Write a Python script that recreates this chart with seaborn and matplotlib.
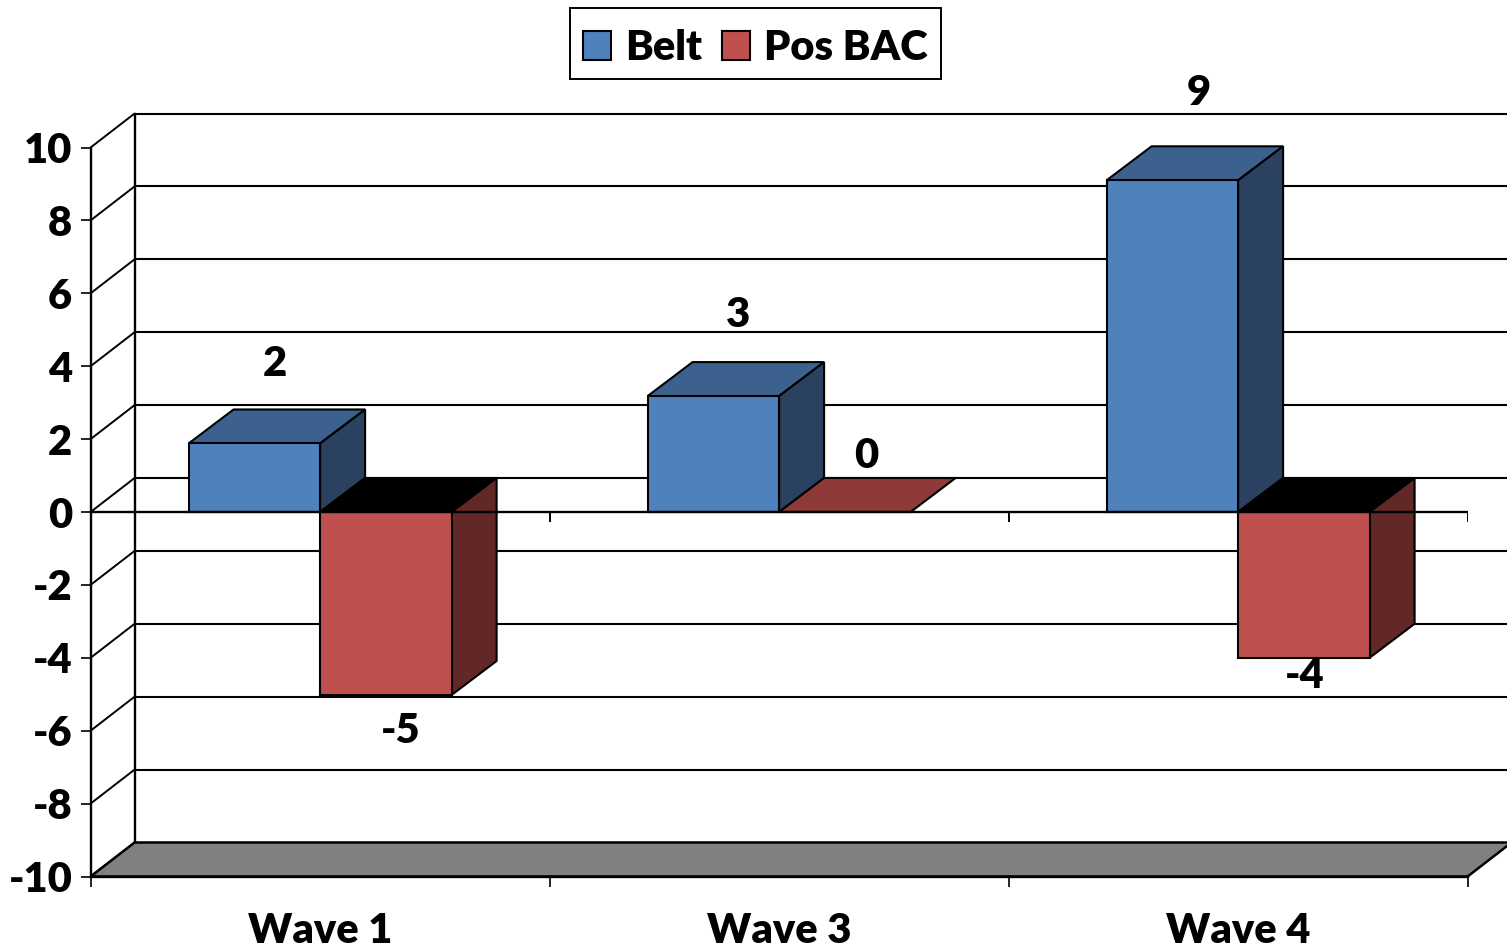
# plot.py
# Excel style 3D clustered columns, drawn with seaborn plus projected faces
import matplotlib
matplotlib.use("Agg")
import matplotlib.pyplot as plt
from matplotlib.patches import Polygon, Rectangle
import pandas as pd
import seaborn as sns

# Data
waves = ["Wave 1", "Wave 3", "Wave 4"]
belt = [1.88, 3.18, 9.1]
pos_bac = [-5.02, 0.0, -4.0]
belt_labels = ["2", "3", "9"]
bac_labels = ["-5", "0", "-4"]
y_ticks = [-10, -8, -6, -4, -2, 0, 2, 4, 6, 8, 10]

# Label offsets from the bar end, in pixels
belt_offsets = [(21, 79), (25, 81), (26, 87)]
bac_offsets = [(15, -36), (21, 56), (1, -18)]

BLUE, BLUE_TOP, BLUE_SIDE = "#4F81BD", "#3D618E", "#2A415F"
RED, RED_ZERO, RED_SIDE = "#C0504D", "#8E3A38", "#622827"
FS = 30

sns.set_theme(style="white")
plt.rcParams["font.family"] = ["Lato", "DejaVu Sans"]
plt.rcParams["font.weight"] = "heavy"
plt.rcParams["axes.unicode_minus"] = False

W, H = 1507, 948
fig = plt.figure(figsize=(W / 100, H / 100), dpi=100)
ax = fig.add_axes([90.6 / W, (H - 876.5) / H, 1377 / W, 729 / H])

df = pd.DataFrame({
    "wave": waves * 2,
    "value": belt + pos_bac,
    "series": ["Belt"] * 3 + ["Pos BAC"] * 3,
})
sns.barplot(data=df, x="wave", y="value", hue="series", palette=[BLUE, RED],
            width=0.573, gap=0, edgecolor="black", linewidth=1.5, ax=ax,
            saturation=1, errorbar=None, zorder=3)

ax.set_xlim(-0.5, 2.5)
ax.set_ylim(-10, 10)
ax.set_xlabel("")
ax.set_ylabel("")

# depth of the fake 3D box, converted to data units
DX = 44 / (1377 / 3)
BAR_DX = 45 / (1377 / 3)
DY = 34 / (729 / 20)

# back wall, left wall and floor
xmin, xmax = ax.get_xlim()
for v in y_ticks:
    ax.plot([xmin + DX, xmax + DX], [v + DY, v + DY], color="black", lw=1.5,
            clip_on=False, zorder=1)
    ax.plot([xmin, xmin + DX], [v, v + DY], color="black", lw=1.4,
            clip_on=False, zorder=1)
ax.plot([xmin + DX, xmin + DX], [-10 + DY, 10 + DY], color="black", lw=1.7,
        clip_on=False, zorder=1)
ax.add_patch(Polygon([(xmin, -10), (xmax, -10), (xmax + DX, -10 + DY), (xmin + DX, -10 + DY)],
                     facecolor="#808080", edgecolor="black", lw=1.8,
                     clip_on=False, zorder=1.5))


def add_faces(bar, top_color, side_color, z):
    """Top and side parallelograms behind one front face"""
    x0 = bar.get_x()
    x1 = x0 + bar.get_width()
    y0 = bar.get_y()
    y1 = y0 + bar.get_height()
    low, high = min(y0, y1), max(y0, y1)
    ax.add_patch(Polygon([(x0, high), (x1, high), (x1 + BAR_DX, high + DY), (x0 + BAR_DX, high + DY)],
                         facecolor=top_color, edgecolor="black", lw=1.5,
                         clip_on=False, zorder=z))
    if high > low:
        ax.add_patch(Polygon([(x1, low), (x1, high), (x1 + BAR_DX, high + DY), (x1 + BAR_DX, low + DY)],
                             facecolor=side_color, edgecolor="black", lw=1.5,
                             clip_on=False, zorder=z))


belt_bars = ax.containers[0]
bac_bars = ax.containers[1]
for bar in belt_bars:
    add_faces(bar, BLUE_TOP, BLUE_SIDE, 2.5)
    bar.set_zorder(3)
for bar, val in zip(bac_bars, pos_bac):
    add_faces(bar, RED_ZERO if val == 0 else "black", RED_SIDE, 3.5)
    bar.set_zorder(4)

# category axis sits on zero, ticks between groups
ax.axhline(0, color="black", lw=1.7, zorder=5)
ax.vlines([0.5, 1.5, 2.5], -10 / (729 / 20), 0, color="black", lw=1.4, zorder=5)

# value labels
for bar, text, (ox, oy) in zip(belt_bars, belt_labels, belt_offsets):
    ax.annotate(text, (bar.get_x() + bar.get_width() / 2, bar.get_height()),
                xytext=(ox, oy), textcoords="offset pixels", ha="center", va="center",
                fontsize=FS, color="black", annotation_clip=False, zorder=6)
for bar, text, (ox, oy) in zip(bac_bars, bac_labels, bac_offsets):
    ax.annotate(text, (bar.get_x() + bar.get_width() / 2, bar.get_height()),
                xytext=(ox, oy), textcoords="offset pixels", ha="center", va="center",
                fontsize=FS, color="black", annotation_clip=False, zorder=6)

# axes
sns.despine(ax=ax, top=True, right=True)
for side in ["left", "bottom"]:
    ax.spines[side].set_color("black")
    ax.spines[side].set_linewidth(1.7)
    ax.spines[side].set_zorder(2)
ax.set_yticks(y_ticks)
ax.set_yticklabels([str(v) for v in y_ticks], fontsize=FS, color="black")
ax.tick_params(axis="y", length=7.2, width=1.2, color="black", pad=6, left=True)
ax.set_xticks([0, 1, 2])
ax.set_xticklabels(waves, fontsize=FS, color="black")
ax.set_xticks([-0.5, 0.5, 1.5, 2.5], minor=True)
ax.tick_params(axis="x", which="major", length=0, pad=25.5)
ax.tick_params(axis="x", which="minor", length=7.2, width=1.2, color="black", bottom=True)

# legend, the box is separate because it is taller than legend padding allows
fig.add_artist(Rectangle((570 / W, 1 - 79 / H), 371 / W, 71 / H, transform=fig.transFigure,
                         facecolor="white", edgecolor="black", lw=1.4, zorder=-1))
sns.move_legend(ax, "center", bbox_to_anchor=(755.5 / W, 1 - 48 / H),
                bbox_transform=fig.transFigure, ncols=2, title=None, frameon=False,
                fontsize=FS, handlelength=0.67, handleheight=0.67, handletextpad=0.35,
                columnspacing=0.47, borderpad=0.33, borderaxespad=0, labelcolor="black")
ax.get_legend().set_zorder(10)

fig.savefig("out.png", dpi=100)
